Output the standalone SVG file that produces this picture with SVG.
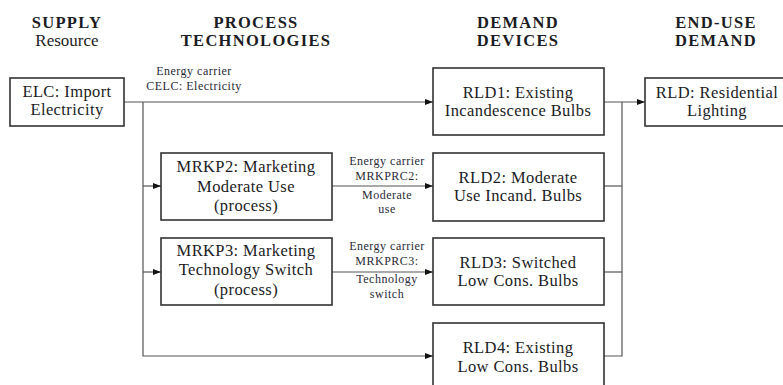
<svg xmlns="http://www.w3.org/2000/svg" width="783" height="385" viewBox="0 0 783 385">
  <style>
    .head { font-family: "Liberation Serif", "DejaVu Serif", serif; font-weight: bold; font-size: 16.5px; fill: #1c1c24; text-anchor: middle; letter-spacing: 1.3px; }
    .sub { font-family: "Liberation Serif", "DejaVu Serif", serif; font-size: 17px; fill: #1c1c24; text-anchor: middle; }
    .box { fill: #ffffff; stroke: #333333; stroke-width: 1.6; }
    .lbl { font-family: "Liberation Serif", "DejaVu Serif", serif; font-size: 16.5px; fill: #1c1c24; text-anchor: middle; letter-spacing: 0.4px; }
    .sm { font-family: "Liberation Serif", "DejaVu Serif", serif; font-size: 12px; fill: #2a2a36; text-anchor: middle; letter-spacing: 0.5px; }
    .wire { fill: none; stroke: #555555; stroke-width: 1.2; }
  </style>
  <defs>
    <marker id="arrow" viewBox="0 0 8 6" refX="8" refY="3" markerWidth="8" markerHeight="6" markerUnits="userSpaceOnUse" orient="auto">
      <path d="M0,0 L8,3 L0,6 Z" fill="#111111"/>
    </marker>
  </defs>

  <!-- column headings -->
  <g id="headings">
    <text class="head" x="67" y="28">SUPPLY</text>
    <text class="sub" x="67" y="46">Resource</text>
    <text class="head" x="256" y="28">PROCESS</text>
    <text class="head" x="256" y="46">TECHNOLOGIES</text>
    <text class="head" x="518" y="28">DEMAND</text>
    <text class="head" x="518" y="46">DEVICES</text>
    <text class="head" x="716" y="28">END-USE</text>
    <text class="head" x="716" y="46">DEMAND</text>
  </g>

  <!-- connectors -->
  <g id="connectors">
    <path class="wire" d="M124,102 H433" marker-end="url(#arrow)"/>
    <path class="wire" d="M143,102 V356 H433" marker-end="url(#arrow)"/>
    <path class="wire" d="M143,186 H161" marker-end="url(#arrow)"/>
    <path class="wire" d="M143,272 H161" marker-end="url(#arrow)"/>
    <path class="wire" d="M332,186 H433" marker-end="url(#arrow)"/>
    <path class="wire" d="M332,272 H433" marker-end="url(#arrow)"/>
    <path class="wire" d="M604,102 H645" marker-end="url(#arrow)"/>
    <path class="wire" d="M622,102 V356 H604"/>
    <path class="wire" d="M604,186 H622"/>
    <path class="wire" d="M604,272 H622"/>
    <text class="sm" x="194" y="75">Energy carrier</text>
    <text class="sm" x="194" y="90">CELC: Electricity</text>
    <text class="sm" x="387" y="165">Energy carrier</text>
    <text class="sm" x="387" y="180">MRKPRC2:</text>
    <text class="sm" x="387" y="199">Moderate</text>
    <text class="sm" x="387" y="213">use</text>
    <text class="sm" x="387" y="250">Energy carrier</text>
    <text class="sm" x="387" y="265">MRKPRC3:</text>
    <text class="sm" x="387" y="283">Technology</text>
    <text class="sm" x="387" y="298">switch</text>
  </g>

  <g id="ELC">
    <rect class="box" x="10" y="78" width="114" height="48"/>
    <text class="lbl" x="67" y="97">ELC: Import</text>
    <text class="lbl" x="67" y="115">Electricity</text>
  </g>

  <g id="MRKP2">
    <rect class="box" x="161" y="153" width="171" height="67"/>
    <text class="lbl" x="246" y="172">MRKP2: Marketing</text>
    <text class="lbl" x="246" y="192">Moderate Use</text>
    <text class="lbl" x="246" y="211">(process)</text>
  </g>

  <g id="MRKP3">
    <rect class="box" x="161" y="238" width="171" height="67"/>
    <text class="lbl" x="246" y="256">MRKP3: Marketing</text>
    <text class="lbl" x="246" y="275">Technology Switch</text>
    <text class="lbl" x="246" y="295">(process)</text>
  </g>

  <g id="RLD1">
    <rect class="box" x="433" y="68" width="171" height="67"/>
    <text class="lbl" x="518" y="98">RLD1: Existing</text>
    <text class="lbl" x="518" y="116">Incandescence Bulbs</text>
  </g>

  <g id="RLD2">
    <rect class="box" x="433" y="153" width="171" height="68"/>
    <text class="lbl" x="518" y="183">RLD2: Moderate</text>
    <text class="lbl" x="518" y="201">Use Incand. Bulbs</text>
  </g>

  <g id="RLD3">
    <rect class="box" x="433" y="238" width="171" height="67"/>
    <text class="lbl" x="518" y="268">RLD3: Switched</text>
    <text class="lbl" x="518" y="286">Low Cons. Bulbs</text>
  </g>

  <g id="RLD4">
    <rect class="box" x="433" y="323" width="171" height="70"/>
    <text class="lbl" x="518" y="353">RLD4: Existing</text>
    <text class="lbl" x="518" y="372">Low Cons. Bulbs</text>
  </g>

  <g id="RLD">
    <rect class="box" x="645" y="78" width="140" height="48"/>
    <text class="lbl" x="717" y="98">RLD: Residential</text>
    <text class="lbl" x="717" y="116">Lighting</text>
  </g>
</svg>
